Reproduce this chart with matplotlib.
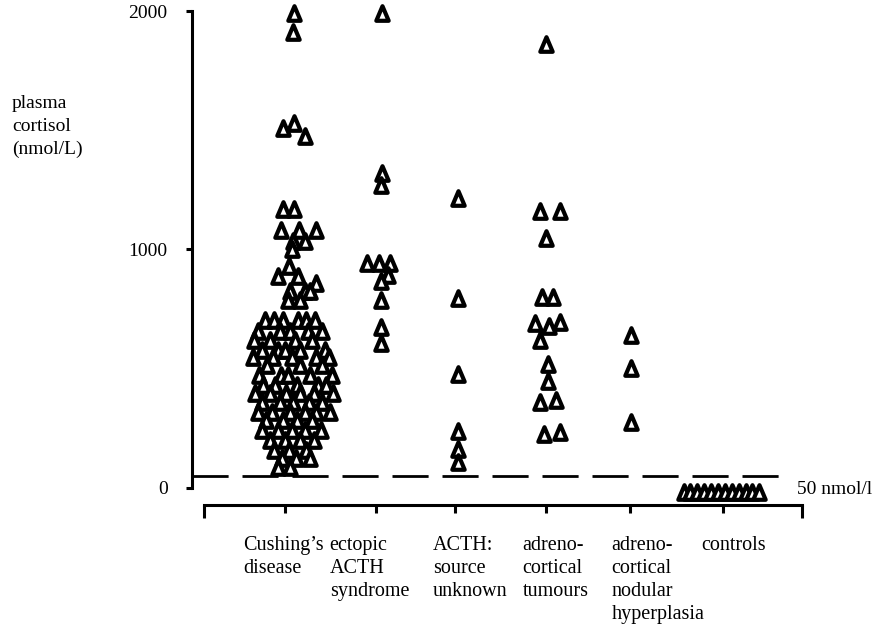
import matplotlib
matplotlib.use("Agg")
import matplotlib.pyplot as plt
from matplotlib.path import Path
from matplotlib.transforms import blended_transform_factory

plt.rcParams["font.family"] = ["Liberation Serif", "DejaVu Serif"]

# Grupos (rótulos do eixo x)
groups = [
    "Cushing’s\ndisease",
    "ectopic\nACTH\nsyndrome",
    "ACTH:\nsource\nunknown",
    "adreno-\ncortical\ntumours",
    "adreno-\ncortical\nnodular\nhyperplasia",
    "controls",
]

# Cortisol plasmático (nmol/L), com o deslocamento horizontal de cada ponto
cushing_values = [
    1990, 1910, 1510, 1530, 1475, 1170, 1170, 1080, 1080, 1080, 1035, 1035, 1000,
    930, 890, 890, 860, 825, 825, 825, 790, 790,
    705, 705, 705, 705, 705, 705,
    660, 660, 660, 660, 660,
    620, 620, 620, 620,
    580, 580, 580, 580, 580,
    550, 550, 550, 550, 550,
    515, 515, 515,
    475, 475, 475, 475, 475,
    430, 430, 430, 430, 430,
    400, 400, 400, 400, 400, 400,
    360, 360, 360, 360, 360,
    320, 320, 320, 320, 320, 320,
    285, 285, 285, 285,
    245, 245, 245, 245, 245,
    200, 200, 200, 200,
    160, 160, 160,
    125, 125, 125,
    90, 90,
]
cushing_x = [
    0.10, 0.09, -0.02, 0.10, 0.23, -0.02, 0.10, -0.05, 0.16, 0.35, 0.09, 0.23, 0.08,
    0.05, -0.08, 0.15, 0.35, 0.06, 0.23, 0.29, 0.03, 0.17,
    -0.23, -0.13, -0.02, 0.15, 0.24, 0.34,
    -0.31, -0.06, 0.06, 0.26, 0.42,
    -0.35, -0.17, 0.11, 0.31,
    -0.26, -0.08, 0.00, 0.17, 0.46,
    -0.37, -0.14, 0.08, 0.35, 0.50,
    -0.21, 0.17, 0.42,
    -0.30, -0.05, 0.03, 0.29, 0.54,
    -0.25, -0.11, 0.14, 0.38, 0.47,
    -0.34, -0.17, 0.01, 0.17, 0.33, 0.55,
    -0.26, -0.06, 0.09, 0.27, 0.42,
    -0.31, -0.15, 0.06, 0.23, 0.35, 0.51,
    -0.22, -0.02, 0.14, 0.31,
    -0.26, -0.08, 0.08, 0.23, 0.41,
    -0.17, 0.00, 0.17, 0.33,
    -0.13, 0.05, 0.24,
    -0.03, 0.13, 0.29,
    -0.08, 0.06,
]

ectopic_values = [1990, 1320, 1270, 945, 945, 945, 895, 870, 790, 675, 610]
ectopic_x = [0.07, 0.07, 0.05, -0.10, 0.03, 0.16, 0.14, 0.06, 0.05, 0.05, 0.05]

unknown_values = [1215, 795, 480, 240, 165, 110]
unknown_x = [0.03, 0.03, 0.03, 0.03, 0.03, 0.03]

tumour_values = [1860, 1160, 1160, 1050, 800, 800, 690, 695, 680, 620, 520, 450, 360, 370, 225, 235]
tumour_x = [0.0, -0.07, 0.16, 0.0, -0.05, 0.08, -0.13, 0.16, 0.03, -0.07, 0.02, 0.02, -0.07, 0.11, -0.02, 0.16]

nodular_values = [640, 505, 275]
nodular_x = [0.01, 0.01, 0.01]

control_values = [-15, -15, -15, -15, -15, -15, -15, -15, -15, -15, -15, -15]
control_x = [-0.45, -0.38, -0.30, -0.22, -0.14, -0.06, 0.02, 0.10, 0.18, 0.26, 0.33, 0.41]

cutoff = 50  # nmol/l

all_values = [cushing_values, ectopic_values, unknown_values, tumour_values, nodular_values, control_values]
all_x = [cushing_x, ectopic_x, unknown_x, tumour_x, nodular_x, control_x]

# posições dos grupos no eixo x e dos rótulos
group_pos = [0, 1.04, 1.94, 2.98, 3.94, 5.0]
label_left = [-0.48, 0.51, 1.69, 2.71, 3.73, 4.75]

fig = plt.figure(figsize=(8.88, 6.35), dpi=100)
ax = fig.add_axes([192 / 888, 130 / 635, 610 / 888, 494 / 635])

# triângulo aberto, um pouco mais alto do que largo
tri = Path([(0, 1), (-0.85, -1), (0.85, -1), (0, 1)],
           [Path.MOVETO, Path.LINETO, Path.LINETO, Path.CLOSEPOLY])
for pos, xs, vals in zip(group_pos, all_x, all_values):
    ax.plot([pos + x for x in xs], vals, linestyle="none", marker=tri,
            markersize=10.5, markerfacecolor="white", markeredgecolor="black",
            markeredgewidth=3.0, clip_on=False, zorder=3)

# linha de corte de 50 nmol/l
ax.plot([-1.062, 5.67], [cutoff, cutoff], color="black", lw=2,
        dashes=(13, 5), zorder=1, clip_on=False)
ax.text(5.845, -8, "50 nmol/l", fontsize=14, va="center", ha="left")

ax.set_xlim(-1.062, 5.902)
ax.set_ylim(-71.3, 2000)

for side in ["top", "right"]:
    ax.spines[side].set_visible(False)
ax.spines["left"].set_bounds(0, 2000)
ax.spines["left"].set_linewidth(2.2)
ax.spines["bottom"].set_bounds(-0.925, 5.902)
ax.spines["bottom"].set_linewidth(2.2)

ax.set_yticks([0, 1000, 2000])
ax.set_yticklabels(["0", "1000", "2000"])
ax.tick_params(axis="y", direction="out", length=4.5, width=2.2, pad=13, labelsize=14)

ax.set_xticks(group_pos)
ax.set_xticklabels([])
ax.set_xticks([-0.925, 5.902], minor=True)
ax.tick_params(axis="x", which="major", direction="out", length=6, width=2.2)
ax.tick_params(axis="x", which="minor", direction="out", length=9, width=2.2)

# rótulos das categorias, uma linha de cada vez
trans = blended_transform_factory(ax.transData, ax.transAxes)
for x0, lab in zip(label_left, groups):
    for i, line in enumerate(lab.split("\n")):
        ax.text(x0, -0.062 - i * 23 / 494, line, transform=trans, ha="left", va="top",
                fontsize=14.5)

fig.text(12 / 888, 1 - 95 / 635, "plasma\ncortisol\n(nmol/L)", ha="left", va="top",
         fontsize=14, linespacing=1.45)

fig.savefig("out.png", dpi=100)
